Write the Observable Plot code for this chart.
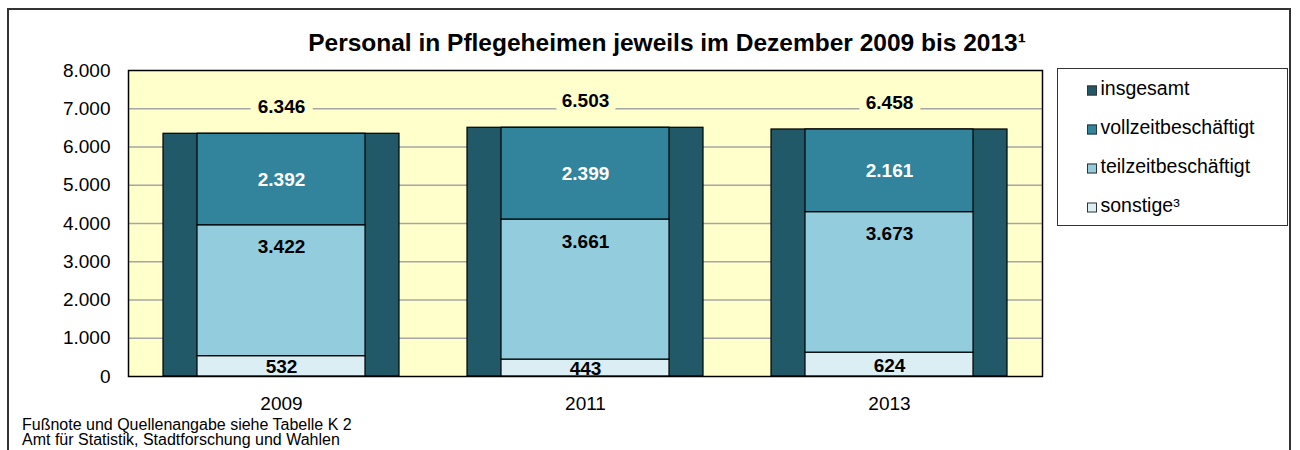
<!DOCTYPE html>
<html lang="de">
<head>
<meta charset="utf-8">
<title>Personal in Pflegeheimen</title>
<script src="https://cdn.jsdelivr.net/npm/d3@7"></script>
<script src="https://cdn.jsdelivr.net/npm/@observablehq/plot@0.6"></script>
<style>
  html, body { margin: 0; padding: 0; background: #fff; overflow: hidden; }
  body { width: 1300px; height: 450px; position: relative; font-family: Arial, "Liberation Sans", sans-serif; color: #000; }
  #frame { position: absolute; left: 7px; top: 8px; width: 1284px; height: 520px; border: 2px solid #333; box-sizing: border-box; }
  #title { position: absolute; left: 167px; width: 1000px; top: 28px; text-align: center; font-weight: bold; font-size: 24.5px; line-height: 30px; white-space: nowrap; }
  #chart { position: absolute; left: 0; top: 60px; }
  #legend { position: absolute; left: 1057px; top: 68px; width: 231px; height: 158px; border: 1.5px solid #333; box-sizing: border-box; background: #fff; }
  .item { position: absolute; left: 28.5px; height: 39px; display: flex; align-items: center; font-size: 19.5px; white-space: nowrap; }
  .sw { width: 10px; height: 10px; box-sizing: border-box; border: 1px solid #333; margin-right: 4px; transform: translateY(1.5px); }
  #note { position: absolute; left: 22px; top: 417px; font-size: 16px; line-height: 15px; white-space: nowrap; }
</style>
</head>
<body>
<div id="frame"></div>
<div id="title">Personal in Pflegeheimen jeweils im Dezember 2009 bis 2013¹</div>
<div id="chart"></div>
<div id="legend"></div>
<div id="note">Fußnote und Quellenangabe siehe Tabelle K 2<br>Amt für Statistik, Stadtforschung und Wahlen</div>
<script>
// Personal in Pflegeheimen (Dezember), Stichtage
const years = ["2009", "2011", "2013"];
const insgesamt = [6346, 6503, 6458];
const vollzeit = [2392, 2399, 2161];
const teilzeit = [3422, 3661, 3673];
const sonstige = [532, 443, 624];
const seriesNames = ["insgesamt", "vollzeitbeschäftigt", "teilzeitbeschäftigt", "sonstige³"];
const yTicks = [0, 1000, 2000, 3000, 4000, 5000, 6000, 7000, 8000];

const seriesColors = ["#215968", "#31849B", "#93CDDD", "#DBEEF3"];
const plotBackground = "#FFFFCC";

// German number format: 6.346
const de = d3.formatLocale({decimal: ",", thousands: ".", grouping: [3], currency: ["", " €"]});
const fmt = de.format(",");

const totals = years.map((year, i) => ({year, series: seriesNames[0], value: insgesamt[i]}));
// stacked bottom to top: sonstige, teilzeit, vollzeit
const parts = years.flatMap((year, i) => [
  {year, series: seriesNames[3], value: sonstige[i]},
  {year, series: seriesNames[2], value: teilzeit[i]},
  {year, series: seriesNames[1], value: vollzeit[i]}
]);
const labelFor = (name) => (d) => d.series === name ? fmt(d.value) : "";

const labelStyle = {fontWeight: "bold", fontSize: 19};

const chart = Plot.plot({
  width: 1050,
  height: 370,
  marginLeft: 128,
  marginRight: 8,
  marginTop: 10,
  marginBottom: 54,
  style: {fontFamily: "Arial, 'Liberation Sans', sans-serif", fontSize: "19px", color: "#000", background: "transparent", overflow: "visible"},
  x: {type: "band", domain: years, padding: 0, label: null, tickSize: 0, tickPadding: 20},
  y: {domain: [0, 8000], ticks: yTicks, tickFormat: fmt, tickSize: 0, tickPadding: 18, label: null},
  color: {domain: seriesNames, range: seriesColors},
  marks: [
    Plot.frame({fill: plotBackground, stroke: "none"}),
    Plot.ruleY(yTicks.filter((v) => v > 0 && v < 8000), {stroke: "#A6A6A6", strokeWidth: 1.5}),
    Plot.barY(totals, {x: "year", y: "value", fill: "series", stroke: "#000", strokeWidth: 1.2, insetLeft: 34, insetRight: 34}),
    Plot.barY(parts, {x: "year", y: "value", fill: "series", stroke: "#000", strokeWidth: 1.2, insetLeft: 68, insetRight: 68}),
    Plot.text(totals, {x: "year", y: "value", text: (d) => fmt(d.value), dy: -27, fill: "#000",
      stroke: plotBackground, strokeWidth: 16, paintOrder: "stroke", ...labelStyle}),
    Plot.text(parts, Plot.stackY({x: "year", y: "value", text: labelFor(seriesNames[1]), fill: "#fff", ...labelStyle})),
    Plot.text(parts, Plot.stackY2({x: "year", y: "value", text: labelFor(seriesNames[2]), dy: 22, fill: "#000", ...labelStyle})),
    Plot.text(parts, Plot.stackY({x: "year", y: "value", text: labelFor(seriesNames[3]), dy: 1, fill: "#000", ...labelStyle})),
    Plot.frame({stroke: "#000", strokeWidth: 1.5})
  ]
});
document.getElementById("chart").append(chart);

// legend built from the chart's color scale
const color = chart.scale("color");
const legend = document.getElementById("legend");
color.domain.forEach((name, i) => {
  const item = document.createElement("div");
  item.className = "item";
  item.style.top = (i * 39) + "px";
  const sw = document.createElement("span");
  sw.className = "sw";
  sw.style.background = color.range[i];
  const label = document.createElement("span");
  label.textContent = name;
  item.append(sw, label);
  legend.append(item);
});
</script>
</body>
</html>
